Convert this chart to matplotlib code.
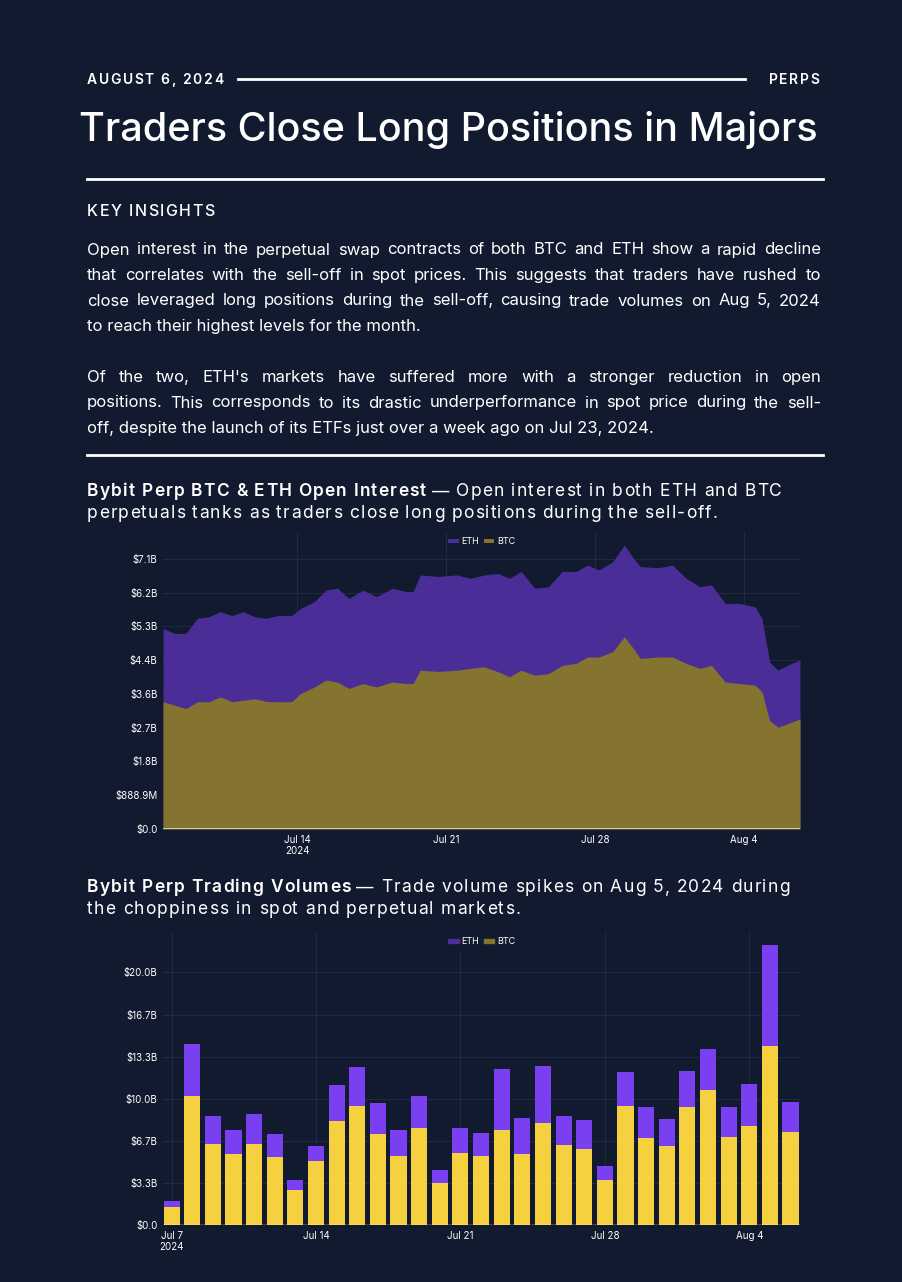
import matplotlib
matplotlib.use("Agg")
import matplotlib.pyplot as plt
import numpy as np
import pandas as pd
from matplotlib.ticker import FuncFormatter, MultipleLocator

BG = "#111a2e"
GRID = "#1f2a42"
ETH_AREA = "#4a2d96"
BTC_AREA = "#857330"
ETH_BAR = "#7b3ff2"
BTC_BAR = "#f5d03f"

# open interest, days offset from Jul 14 00:00, values in $B
oi_offset_days = [-6.33, -5.79, -5.25, -4.71, -4.17, -3.63, -3.09, -2.55, -2.01, -1.47,
                  -0.93, -0.28, 0.15, 0.80, 1.34, 1.88, 2.42, 3.07, 3.71, 4.47,
                  5.12, 5.44, 5.77, 6.63, 7.49, 8.14, 8.79, 9.44, 9.98, 10.52,
                  11.17, 11.81, 12.46, 13.11, 13.65, 14.19, 14.84, 15.38, 15.81, 16.13,
                  16.99, 17.65, 18.29, 18.94, 19.48, 20.13, 20.78, 21.53, 21.86, 22.22,
                  22.61, 23.05, 23.65]
oi_total = [5.28, 5.15, 5.15, 5.55, 5.59, 5.72, 5.62, 5.72, 5.59, 5.55,
            5.62, 5.62, 5.81, 5.99, 6.29, 6.34, 6.07, 6.29, 6.12, 6.34,
            6.25, 6.25, 6.69, 6.65, 6.69, 6.60, 6.69, 6.73, 6.60, 6.78,
            6.34, 6.38, 6.78, 6.78, 6.95, 6.82, 7.04, 7.48, 7.13, 6.91,
            6.88, 6.95, 6.60, 6.38, 6.43, 5.94, 5.94, 5.85, 5.55, 4.40,
            4.18, 4.31, 4.45]
oi_btc = [3.35, 3.26, 3.17, 3.35, 3.35, 3.48, 3.35, 3.39, 3.43, 3.36,
          3.35, 3.35, 3.57, 3.74, 3.92, 3.87, 3.70, 3.83, 3.74, 3.87,
          3.83, 3.83, 4.18, 4.15, 4.18, 4.23, 4.27, 4.14, 4.01, 4.18,
          4.05, 4.09, 4.31, 4.36, 4.53, 4.53, 4.67, 5.06, 4.75, 4.49,
          4.53, 4.53, 4.36, 4.23, 4.31, 3.87, 3.83, 3.79, 3.61, 2.86,
          2.68, 2.77, 2.90]

# daily trading volume, $B
vol_dates = pd.date_range("2024-07-07", "2024-08-06", freq="D")
vol_btc = [1.46, 10.24, 6.44, 5.64, 6.38, 5.37, 2.74, 5.08, 8.22, 9.41,
           7.23, 5.48, 7.69, 3.32, 5.74, 5.48, 7.53, 5.64, 8.11, 6.33,
           6.01, 3.59, 9.41, 6.91, 6.25, 9.36, 10.72, 6.97, 7.85, 14.15, 7.39]
vol_total = [1.91, 14.31, 8.62, 7.55, 8.80, 7.23, 3.54, 6.25, 11.06, 12.53,
             9.63, 7.55, 10.24, 4.39, 7.66, 7.31, 12.37, 8.51, 12.58, 8.64,
             8.35, 4.68, 12.15, 9.31, 8.40, 12.21, 13.94, 9.36, 11.17, 22.21, 9.71]

tick_dates = ["2024-07-14", "2024-07-21", "2024-07-28", "2024-08-04"]

W, H = 902, 1282
plt.rcParams["font.family"] = ["Inter", "DejaVu Sans"]
fig = plt.figure(figsize=(W / 100, H / 100), dpi=100, facecolor=BG)
rend = fig.canvas.get_renderer()


def ftext(px, py, s, **kw):
    return fig.text(px / W, 1 - py / H, s, color="white", va="center", **kw)


def width_of(s, **kw):
    t = fig.text(0, 0, s, **kw)
    w = t.get_window_extent(rend).width
    t.remove()
    return w


def spaced(px, py, s, track, align="left", **kw):
    # draw text char by char with extra tracking, returns end x
    widths = [width_of(c if c != " " else "a a", **kw) - (width_of("aa", **kw) if c == " " else 0) for c in s]
    total = sum(widths) + track * (len(s) - 1)
    x = px - total if align == "right" else px
    for c, w in zip(s, widths):
        if c != " ":
            ftext(x, py, c, ha="left", **kw)
        x += w + track
    return x


def justified(px0, px1, py, s, **kw):
    words = s.split()
    ws = [width_of(w, **kw) for w in words]
    gap = (px1 - px0 - sum(ws)) / (len(words) - 1)
    x = px0
    for w, wd in zip(words, ws):
        ftext(x, py, w, ha="left", **kw)
        x += wd + gap


def hline(x0, x1, py, lw=2):
    fig.add_artist(plt.Line2D([x0 / W, x1 / W], [1 - py / H] * 2, color="white", lw=lw))


# header
spaced(87, 80, "AUGUST 6, 2024", 1.6, fontsize=10, fontweight="semibold")
spaced(819, 80, "PERPS", 1.6, align="right", fontsize=10, fontweight="semibold")
hline(238, 745, 79)
ftext(448, 130, "Traders Close Long Positions in Majors", fontsize=28.5, fontweight="medium", ha="center")
hline(87, 823, 179)
spaced(87, 211, "KEY INSIGHTS", 1.5, fontsize=11.5, fontweight="medium")

para = [
    ("Open interest in the perpetual swap contracts of both BTC and ETH show a rapid decline", True),
    ("that correlates with the sell-off in spot prices. This suggests that traders have rushed to", True),
    ("close leveraged long positions during the sell-off, causing trade volumes on Aug 5, 2024", True),
    ("to reach their highest levels for the month.", False),
    ("", False),
    ("Of the two, ETH's markets have suffered more with a stronger reduction in open", True),
    ("positions. This corresponds to its drastic underperformance in spot price during the sell-", True),
    ("off, despite the launch of its ETFs just over a week ago on Jul 23, 2024.", False),
]
for i, (line, just) in enumerate(para):
    py = 250 + i * 25.5
    if just:
        justified(87, 821, py, line, fontsize=12)
    elif line:
        ftext(87, py, line, fontsize=12, ha="left")
hline(87, 823, 455)


def chart_title(py, bold, rest1, rest2):
    x = spaced(87, py, bold, 1.2, fontsize=12.5, fontweight="semibold")
    spaced(x + 4, py, "— " + rest1, 1.2, fontsize=12.5)
    spaced(87, py + 21, rest2, 1.2, fontsize=12.5)


chart_title(492, "Bybit Perp BTC & ETH Open Interest",
            "Open interest in both ETH and BTC",
            "perpetuals tanks as traders close long positions during the sell-off.")
chart_title(888, "Bybit Perp Trading Volumes",
            "Trade volume spikes on Aug 5, 2024 during",
            "the choppiness in spot and perpetual markets.")


def style_ax(ax):
    ax.set_facecolor(BG)
    for s in ax.spines.values():
        s.set_visible(False)
    ax.grid(True, color=GRID, lw=0.8)
    ax.set_axisbelow(True)
    ax.tick_params(colors="white", labelsize=7, length=0, pad=4)
    return [pd.Timestamp(d) for d in tick_dates]


def axes_px(x0, y0, x1, y1):
    return fig.add_axes([x0 / W, 1 - y1 / H, (x1 - x0) / W, (y1 - y0) / H])


legend_kw = dict(loc="upper center", bbox_to_anchor=(0.5, 1.01), ncol=2, fontsize=6.5,
                 labelcolor="white", handlelength=1.2, handleheight=0.4, columnspacing=0.5,
                 handletextpad=0.3)

# open interest chart
ax1 = axes_px(163, 532, 800, 829)
ticks = style_ax(ax1)
oi_t = pd.Timestamp("2024-07-14") + pd.to_timedelta(oi_offset_days, unit="D")
ax1.fill_between(oi_t, 0, oi_total, color=ETH_AREA, lw=0, label="ETH")
ax1.fill_between(oi_t, 0, oi_btc, color=BTC_AREA, lw=0, label="BTC")
ax1.axhline(0, color="#e8e0a0", lw=1.2)
ax1.set_xlim(oi_t[0], oi_t[-1])
ax1.set_ylim(0, 7.82)
ax1.yaxis.set_major_locator(MultipleLocator(8 / 9))
ax1.yaxis.set_major_formatter(FuncFormatter(
    lambda v, p: "$0.0" if v < 0.01 else (f"${v*1000:.1f}M" if v < 1 else f"${v:.1f}B")))
ax1.set_xticks(ticks)
ax1.set_xticklabels(["Jul 14\n2024", "Jul 21", "Jul 28", "Aug 4"])
ax1.legend(frameon=False, **legend_kw)

# volume chart
ax2 = axes_px(163, 932, 800, 1225)
ticks = style_ax(ax2)
vol_eth = np.array(vol_total) - np.array(vol_btc)
ax2.bar(vol_dates, vol_eth, bottom=vol_btc, width=0.78, color=ETH_BAR)
ax2.bar(vol_dates, vol_btc, width=0.78, color=BTC_BAR)
ax2.axhline(0, color="white", lw=1)
ax2.set_xlim(vol_dates[0] - pd.Timedelta(hours=10), vol_dates[-1] + pd.Timedelta(hours=11))
ax2.set_ylim(0, 23.2)
ax2.yaxis.set_major_locator(MultipleLocator(10 / 3))
ax2.yaxis.set_major_formatter(FuncFormatter(lambda v, p: "$0.0" if v < 0.01 else f"${v:.1f}B"))
ax2.set_xticks([pd.Timestamp("2024-07-07")] + ticks)
ax2.set_xticklabels(["Jul 7\n2024", "Jul 14", "Jul 21", "Jul 28", "Aug 4"])
ax2.legend([plt.Rectangle((0, 0), 1, 1, color=ETH_AREA), plt.Rectangle((0, 0), 1, 1, color=BTC_AREA)],
           ["ETH", "BTC"], frameon=True, facecolor=BG, edgecolor=BG, **legend_kw)

fig.savefig("out.png", dpi=100, facecolor=BG)
